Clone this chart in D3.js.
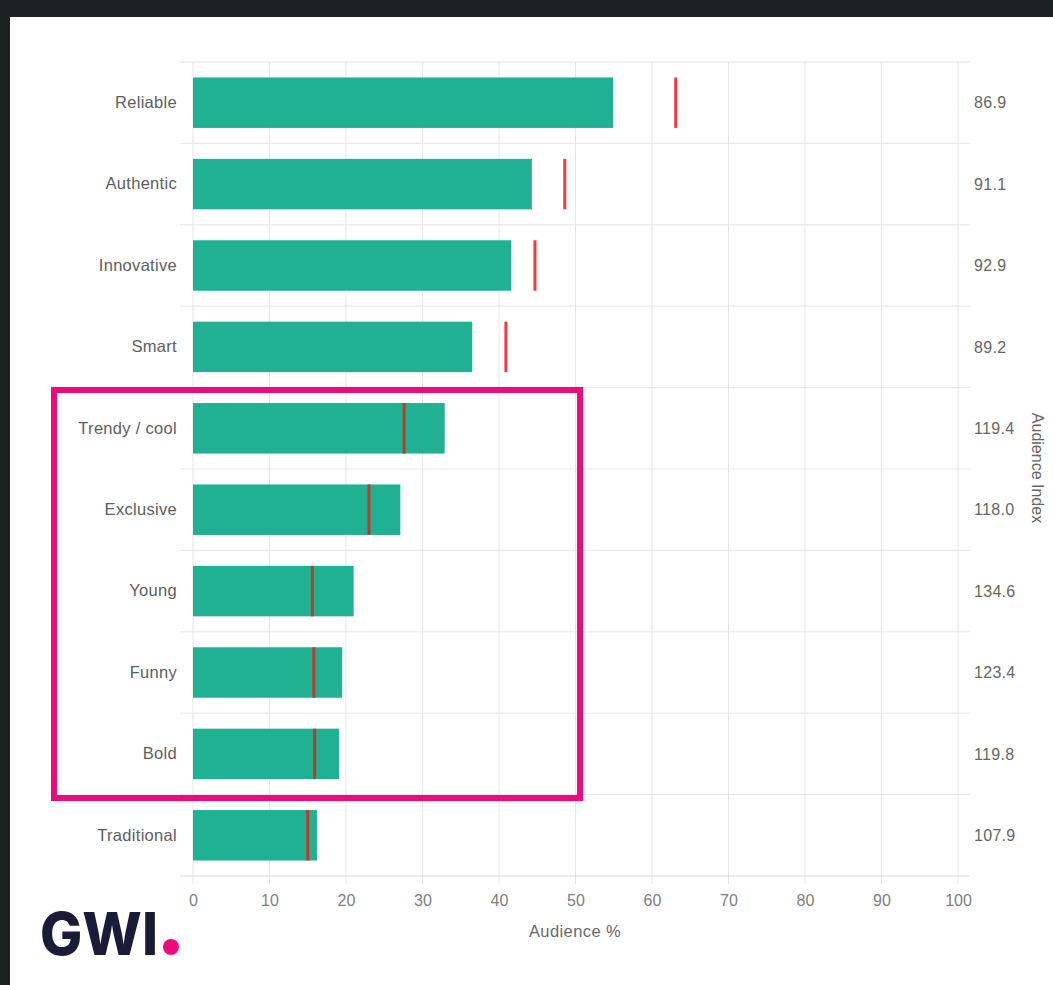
<!DOCTYPE html>
<html lang="en">

<head>
    <meta charset="UTF-8">
    <title>Audience attributes</title>
    <style>
        body { margin: 0; background: #1c2122; }
        svg { display: block; }
    </style>
</head>

<body>
    <script src="https://cdn.jsdelivr.net/npm/d3@7"></script>
    <script>
        const svg_w = 1053;
        const svg_h = 985;

        // values
        const categories = ['Reliable', 'Authentic', 'Innovative', 'Smart', 'Trendy / cool',
            'Exclusive', 'Young', 'Funny', 'Bold', 'Traditional'];
        const audience = [54.9, 44.3, 41.6, 36.5, 32.9, 27.1, 21.0, 19.5, 19.1, 16.2];
        const baseline = [63.1, 48.6, 44.7, 40.9, 27.6, 23.0, 15.6, 15.8, 15.9, 15.0];
        const indexLabels = ['86.9', '91.1', '92.9', '89.2', '119.4', '118.0', '134.6', '123.4', '119.8', '107.9'];
        const xTicks = [0, 10, 20, 30, 40, 50, 60, 70, 80, 90, 100];

        const m = { left: 193, right: 958, top: 62, bottom: 876 };
        const font = 'Liberation Sans, Arial, sans-serif';

        const svg = d3.select('body').append('svg')
            .attr('width', svg_w)
            .attr('height', svg_h);

        // white card on the dark page
        svg.append('rect')
            .attr('x', 10).attr('y', 17)
            .attr('width', svg_w - 10).attr('height', svg_h - 17)
            .attr('fill', '#fff');

        const x = d3.scaleLinear().domain([0, 100]).range([m.left, m.right]);
        const y = d3.scaleBand().domain(categories).range([m.top, m.bottom]).paddingInner(0.38).paddingOuter(0.19);
        const rows = d3.scaleBand().domain(categories).range([m.top, m.bottom]);

        // grid
        const grid = svg.append('g');
        grid.selectAll('line.v').data(xTicks).enter().append('line')
            .attr('x1', d => x(d)).attr('x2', d => x(d))
            .attr('y1', m.top).attr('y2', m.bottom + 8)
            .attr('stroke', '#e6e6e6').attr('stroke-width', 1);
        grid.selectAll('line.h').data(categories.slice(1)).enter().append('line')
            .attr('x1', 180).attr('x2', 970)
            .attr('y1', d => rows(d)).attr('y2', d => rows(d))
            .attr('stroke', '#e6e6e6');
        grid.append('line')
            .attr('x1', 180).attr('x2', 970)
            .attr('y1', m.top).attr('y2', m.top)
            .attr('stroke', '#eadede');
        grid.append('line')
            .attr('x1', 180).attr('x2', 970)
            .attr('y1', m.bottom).attr('y2', m.bottom)
            .attr('stroke', '#dcdcdc');

        // bars
        svg.selectAll('rect.bar').data(categories).enter().append('rect')
            .attr('x', x(0))
            .attr('y', d => y(d))
            .attr('width', (d, i) => x(audience[i]) - x(0))
            .attr('height', y.bandwidth())
            .attr('fill', '#1fb192');

        // baseline markers
        svg.selectAll('line.mark').data(categories).enter().append('line')
            .attr('x1', (d, i) => x(baseline[i]))
            .attr('x2', (d, i) => x(baseline[i]))
            .attr('y1', d => y(d))
            .attr('y2', d => y(d) + y.bandwidth())
            .attr('stroke', (d, i) => baseline[i] > audience[i] ? '#ee3b3f' : '#c2392b')
            .attr('stroke-width', 3);

        // x axis labels
        const xAxis = svg.append('g')
            .attr('transform', `translate(0,${m.bottom + 10})`)
            .call(d3.axisBottom(x).tickValues(xTicks).tickSize(0).tickPadding(9));
        xAxis.select('.domain').remove();
        xAxis.selectAll('text')
            .attr('fill', '#808080')
            .style('font-family', font)
            .style('font-size', '16px');

        // category labels
        const yAxis = svg.append('g')
            .attr('transform', `translate(${m.left},0)`)
            .call(d3.axisLeft(rows).tickSize(0).tickPadding(16));
        yAxis.select('.domain').remove();
        yAxis.selectAll('text')
            .attr('fill', '#5e5e5e')
            .style('font-family', font)
            .style('font-size', '16.5px')
            .style('letter-spacing', '0.3px');

        // audience index column
        svg.selectAll('text.idx').data(categories).enter().append('text')
            .attr('x', 974)
            .attr('y', d => rows(d) + rows.bandwidth() / 2)
            .attr('dy', '0.35em')
            .attr('fill', '#666')
            .style('font-family', font)
            .style('font-size', '16px')
            .style('letter-spacing', '0.3px')
            .text((d, i) => indexLabels[i]);

        svg.append('text')
            .attr('transform', `translate(1032,468) rotate(90)`)
            .attr('text-anchor', 'middle')
            .attr('fill', '#666')
            .style('font-family', font)
            .style('font-size', '16px')
            .text('Audience Index');

        svg.append('text')
            .attr('x', 575).attr('y', 937)
            .attr('text-anchor', 'middle')
            .attr('fill', '#6a6a6a')
            .style('font-family', font)
            .style('font-size', '16.5px')
            .style('letter-spacing', '0.4px')
            .text('Audience %');

        // highlight box
        svg.append('rect')
            .attr('x', 54).attr('y', 390)
            .attr('width', 526).attr('height', 408)
            .attr('fill', 'none')
            .attr('stroke', '#ee0a7c')
            .attr('stroke-width', 6);

        // logo
        svg.append('text')
            .attr('x', 40).attr('y', 955)
            .attr('fill', '#1b1a38')
            .attr('textLength', 118)
            .attr('lengthAdjust', 'spacingAndGlyphs')
            .style('font-family', 'Inter, Liberation Sans, sans-serif')
            .style('font-weight', 800)
            .style('font-size', '59px')
            .text('GWI');
        svg.append('circle')
            .attr('cx', 171).attr('cy', 947).attr('r', 8)
            .attr('fill', '#ee0a7c');
    </script>
</body>

</html>
